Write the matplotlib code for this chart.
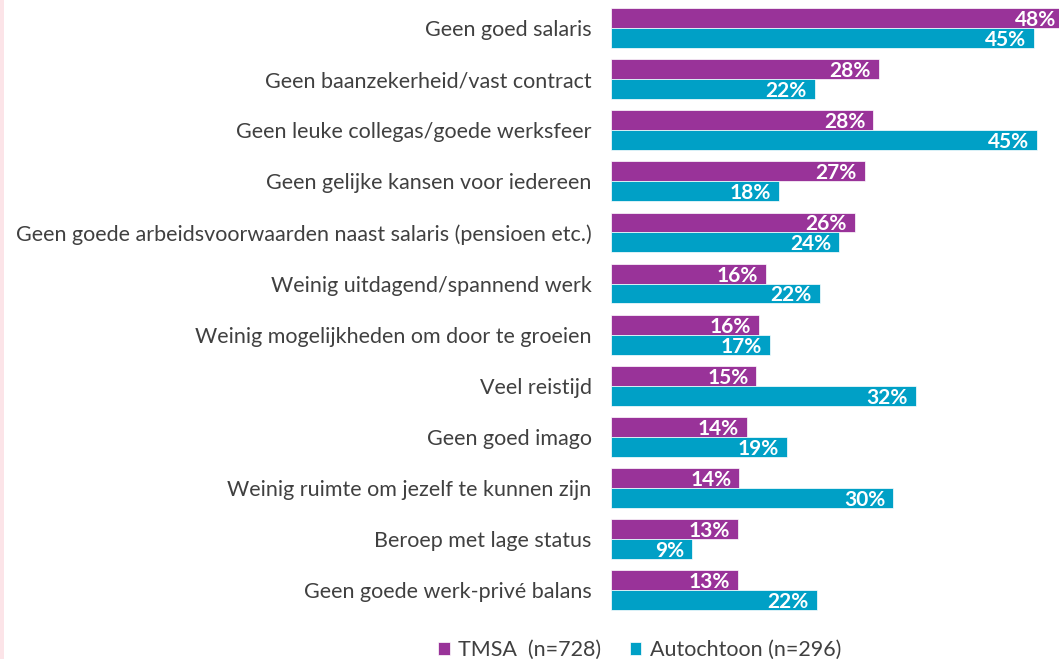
import numpy as np
import matplotlib.pyplot as plt
from matplotlib.patches import Rectangle

categories = [
    "Geen goed salaris",
    "Geen baanzekerheid/vast contract",
    "Geen leuke collegas/goede werksfeer",
    "Geen gelijke kansen voor iedereen",
    "Geen goede arbeidsvoorwaarden naast salaris (pensioen etc.)",
    "Weinig uitdagend/spannend werk",
    "Weinig mogelijkheden om door te groeien",
    "Veel reistijd",
    "Geen goed imago",
    "Weinig ruimte om jezelf te kunnen zijn",
    "Beroep met lage status",
    "Geen goede werk-privé balans",
]
# unrounded shares (%); labels show them rounded
tmsa = [48.3, 28.4, 27.8, 26.9, 25.8, 16.4, 15.7, 15.4, 14.4, 13.6, 13.4, 13.4]
autochtoon = [44.8, 21.6, 45.1, 17.8, 24.2, 22.1, 16.8, 32.3, 18.6, 29.9, 8.6, 21.8]
series_labels = ["TMSA  (n=728)", "Autochtoon (n=296)"]

PURPLE = "#993399"
TEAL = "#00A0C6"
TEXT = "#404040"

plt.rcParams['font.family'] = ['Lato', 'DejaVu Sans']

fig = plt.figure(figsize=(10.59, 6.59), dpi=100)
ax = fig.add_axes([0.577, 0.066, 0.423, 0.930])

# thin pink strip on the left edge
fig.patches.append(Rectangle((0, 0), 0.004, 1, transform=fig.transFigure,
                             facecolor="#fce4e8", edgecolor="none"))

XMAX = 47.46
y = np.arange(len(categories))
h = 0.39
b1 = ax.barh(y - h / 2, tmsa, height=h, color=PURPLE, edgecolor="white", linewidth=0.5)
b2 = ax.barh(y + h / 2, autochtoon, height=h, color=TEAL, edgecolor="white", linewidth=0.5)

for bars, vals in ((b1, tmsa), (b2, autochtoon)):
    for bar, v in zip(bars, vals):
        xpos = min(v - 0.85, XMAX - 0.3)
        ax.text(xpos, bar.get_y() + bar.get_height() * 0.6, f"{round(v)}%",
                ha="right", va="center", color="white", fontsize=15, fontweight="bold")

ax.set_xlim(0, XMAX)
ax.set_ylim(len(categories) - 0.5, -0.5)
ax.set_yticks(y)
ax.set_yticklabels(categories, fontsize=15.5, color=TEXT)
ax.tick_params(axis="y", length=0, pad=14)
ax.set_xticks([])
for s in ax.spines.values():
    s.set_visible(False)

leg = fig.legend([b1, b2], series_labels, loc="lower center", bbox_to_anchor=(0.604, -0.031),
                 ncol=2, frameon=False, fontsize=15.5, handlelength=0.55, handleheight=0.55,
                 handletextpad=0.4, columnspacing=1.3)
for t in leg.get_texts():
    t.set_color(TEXT)

fig.savefig("out.png", dpi=100)
